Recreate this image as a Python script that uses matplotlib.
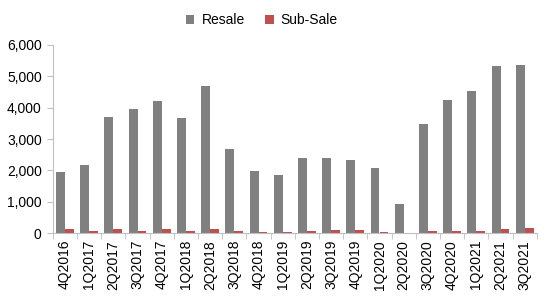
import matplotlib
matplotlib.use("Agg")
import matplotlib.pyplot as plt
import numpy as np

quarters = ["4Q2016", "1Q2017", "2Q2017", "3Q2017", "4Q2017", "1Q2018", "2Q2018",
            "3Q2018", "4Q2018", "1Q2019", "2Q2019", "3Q2019", "4Q2019", "1Q2020",
            "2Q2020", "3Q2020", "4Q2020", "1Q2021", "2Q2021", "3Q2021"]
resale = [1950, 2170, 3700, 3960, 4220, 3670, 4700, 2680, 1980, 1850,
          2380, 2380, 2330, 2080, 930, 3480, 4250, 4530, 5330, 5370]
sub_sale = [120, 65, 130, 75, 120, 75, 120, 75, 40, 40,
            50, 100, 90, 40, 15, 60, 70, 80, 140, 170]

GREY = "#808080"
RED = "#C0504D"
AXIS = "#BFBFBF"

plt.rcParams.update({
    "font.family": ["Liberation Sans", "DejaVu Sans"],
    "font.size": 10,
})

fig = plt.figure(figsize=(5.5, 2.98), dpi=100)
ax = fig.add_axes([0.096, 0.218, 0.88, 0.631])

x = np.arange(len(quarters))
w = 0.37
ax.bar(x - w / 2, resale, w, color=GREY, label="Resale")
ax.bar(x + w / 2, sub_sale, w, color=RED, label="Sub-Sale")

ax.set_xlim(-0.5, len(quarters) - 0.5)
ax.set_ylim(0, 6000)
ax.set_yticks(np.arange(0, 6001, 1000))
ax.set_yticklabels([f"{v:,}" for v in range(0, 6001, 1000)])
ax.set_xticks(x)
ax.set_xticklabels(quarters, rotation=90)
ax.set_xticks(np.arange(-0.5, len(quarters), 1), minor=True)
ax.tick_params(axis="x", which="major", length=0, pad=5)
ax.tick_params(axis="x", which="minor", length=4, color=AXIS)
ax.tick_params(axis="y", length=4, color=AXIS, pad=4)

for side in ("top", "right"):
    ax.spines[side].set_visible(False)
ax.spines["left"].set_color(AXIS)
ax.spines["bottom"].set_color(AXIS)

fig.legend(loc="center", bbox_to_anchor=(262 / 550, 1 - 20 / 298), ncol=2,
           frameon=False, handlelength=0.6, handleheight=0.6,
           columnspacing=1.5, handletextpad=0.5)

fig.savefig("out.png", dpi=100)
